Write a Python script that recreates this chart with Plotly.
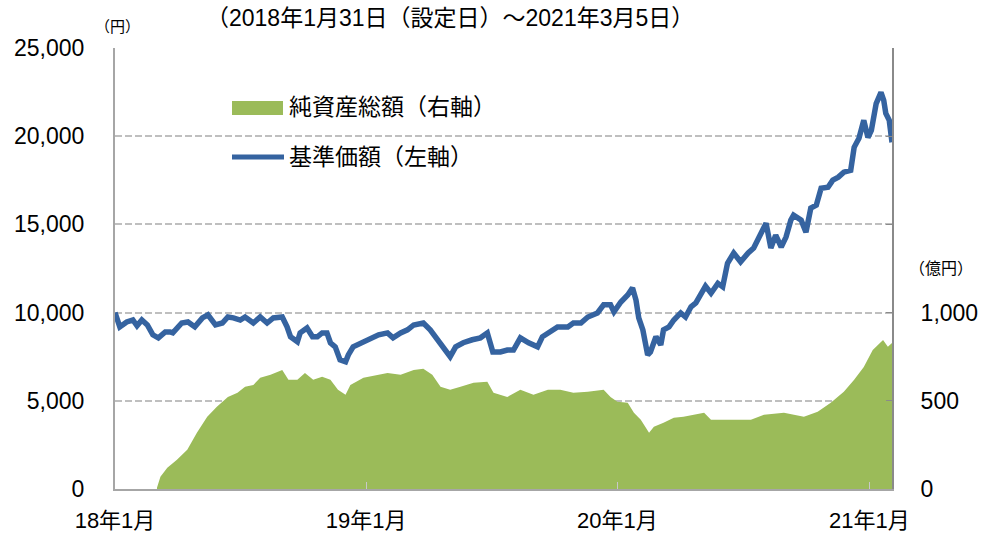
import plotly.graph_objects as go

# 基準価額（円）
nav_dates = ["2018-01-31","2018-02-07","2018-02-17","2018-02-26","2018-03-04","2018-03-11","2018-03-19","2018-03-27",
"2018-04-04","2018-04-14","2018-04-21","2018-04-25","2018-05-08","2018-05-17","2018-05-27","2018-06-07","2018-06-15",
"2018-06-26","2018-07-06","2018-07-14","2018-07-22","2018-08-01","2018-08-08","2018-08-20","2018-08-30","2018-09-09",
"2018-09-18","2018-10-01","2018-10-08","2018-10-13","2018-10-23","2018-10-27","2018-11-06","2018-11-14","2018-11-21",
"2018-11-28","2018-12-05","2018-12-10","2018-12-17","2018-12-24","2019-01-01","2019-01-05","2019-01-12","2019-01-25",
"2019-02-06","2019-02-18","2019-03-03","2019-03-11","2019-03-22","2019-04-01","2019-04-10","2019-04-24","2019-05-04",
"2019-05-15","2019-05-23","2019-06-02","2019-06-10","2019-06-21","2019-07-04","2019-07-16","2019-07-26","2019-08-03",
"2019-08-14","2019-08-24","2019-09-02","2019-09-12","2019-09-24","2019-10-07","2019-10-14","2019-10-26","2019-11-05",
"2019-11-20","2019-11-28","2019-12-09","2019-12-19","2020-01-02","2020-01-11","2020-01-21","2020-01-26","2020-02-05",
"2020-02-15","2020-02-22","2020-02-27","2020-03-02","2020-03-08","2020-03-15","2020-03-19","2020-03-27","2020-04-03",
"2020-04-07","2020-04-15","2020-04-22","2020-05-02","2020-05-09","2020-05-17","2020-05-24","2020-05-31","2020-06-07",
"2020-06-15","2020-06-25","2020-07-02","2020-07-09","2020-07-18","2020-07-28","2020-08-08","2020-08-16","2020-08-24",
"2020-09-03","2020-09-10","2020-09-17","2020-09-25","2020-10-02","2020-10-09","2020-10-13","2020-10-24","2020-10-31",
"2020-11-07","2020-11-15","2020-11-22","2020-12-02","2020-12-09","2020-12-17","2020-12-25","2021-01-04","2021-01-09",
"2021-01-16","2021-01-23","2021-01-29","2021-02-03","2021-02-10","2021-02-17","2021-02-21","2021-02-24","2021-03-01",
"2021-03-05"]
nav_values = [10000,9190,9470,9580,9250,9580,9300,8740,
8570,8900,8900,8850,9410,9470,9190,9700,9870,
9300,9410,9750,9700,9580,9750,9410,9750,9410,
9700,9750,9190,8630,8350,8850,9130,8630,8630,
8850,8850,8290,8060,7320,7210,7600,8060,8290,
8570,8740,8850,8570,8850,9020,9300,9410,9020,
8460,8010,7500,8060,8290,8460,8570,8850,7770,
7770,7880,7880,8570,8290,8060,8630,8910,9190,
9190,9410,9410,9750,9980,10440,10440,10040,10600,
11000,11400,10710,9700,9020,7600,7770,8630,8170,
9020,9190,9580,9980,9750,10330,10550,11100,11500,
11100,11660,11460,12800,13380,12880,13380,13660,14280,
15060,13660,14390,13720,14280,15240,15520,15240,14560,
15920,16090,17050,17110,17510,17680,17960,18070,19370,
19880,20900,19930,20330,21850,22480,22030,21290,20900,
19650]

# 純資産総額（億円）
na_dates = ["2018-04-02","2018-04-07","2018-04-17","2018-05-01","2018-05-16","2018-05-30","2018-06-14","2018-06-28",
"2018-07-14","2018-07-28","2018-08-08","2018-08-20","2018-08-30","2018-09-14","2018-10-01","2018-10-10","2018-10-23",
"2018-11-03","2018-11-15","2018-11-28","2018-12-10","2018-12-21","2019-01-01","2019-01-08","2019-01-27","2019-02-16",
"2019-03-03","2019-03-22","2019-04-10","2019-04-24","2019-05-07","2019-05-19","2019-06-02","2019-06-17","2019-07-06",
"2019-07-26","2019-08-04","2019-08-24","2019-09-12","2019-10-01","2019-10-22","2019-11-09","2019-11-28","2019-12-19",
"2020-01-11","2020-01-21","2020-01-31","2020-02-15","2020-02-24","2020-03-05","2020-03-17","2020-03-24","2020-04-07",
"2020-04-22","2020-05-06","2020-05-21","2020-06-05","2020-06-15","2020-07-14","2020-08-12","2020-08-31","2020-09-29",
"2020-10-28","2020-11-17","2020-12-06","2020-12-25","2021-01-09","2021-01-23","2021-02-05","2021-02-20","2021-02-27",
"2021-03-05"]
na_values = [7,70,120,166,222,319,410,466,
522,545,580,590,630,647,675,619,619,
658,619,636,619,562,534,590,630,647,
658,647,675,681,647,580,562,580,602,
608,545,522,562,534,562,562,545,551,
562,522,494,489,432,392,319,353,375,
404,410,421,432,392,392,392,421,432,
410,438,489,551,619,692,788,845,806,
828]

x_tickvals = ["2018-01-31", "2019-01-31", "2020-01-31", "2021-01-31"]
x_ticktext = ["18年1月", "19年1月", "20年1月", "21年1月"]

title_text = "（2018年1月31日（設定日）～2021年3月5日）"
legend_na = "純資産総額（右軸）"
legend_nav = "基準価額（左軸）"

GREEN = "#9bbb59"
BLUE = "#3563a0"
FONT = "Liberation Sans, Arial, Noto Sans CJK JP, sans-serif"

W, H = 982, 536
L, R, T, B = 115, 90, 48, 47
pw, ph = W - L - R, H - T - B

def px(x):
    return (x - L) / pw

def py(y):
    return (H - B - y) / ph

fig = go.Figure()
fig.add_trace(go.Scatter(x=na_dates, y=na_values, yaxis="y2", mode="lines",
                         line=dict(width=0, color=GREEN), fill="tozeroy",
                         fillcolor=GREEN, showlegend=False, hoverinfo="skip"))
fig.add_trace(go.Scatter(x=nav_dates, y=nav_values, mode="lines",
                         line=dict(width=5.5, color=BLUE), showlegend=False))

fig.update_layout(
    width=W, height=H,
    margin=dict(l=L, r=R, t=T, b=B, autoexpand=False),
    paper_bgcolor="white", plot_bgcolor="white",
    font=dict(family=FONT, size=22, color="black"),
    xaxis=dict(type="date", range=["2018-01-31", "2021-03-05"],
               tickvals=x_tickvals, ticktext=x_ticktext, automargin=False,
               showline=True, linecolor="#a6a6a6", linewidth=2,
               ticks="inside", ticklen=7, tickcolor="#c8c8c8", tickwidth=1,
               showgrid=False, zeroline=False,
               tickfont=dict(size=22), ticklabelstandoff=11),
    yaxis=dict(range=[0, 25000], dtick=5000, tickformat=",", automargin=False,
               showline=True, linecolor="#a6a6a6", linewidth=2,
               showgrid=True, gridcolor="#bfbfbf", gridwidth=1.5, griddash="7px,3px",
               zeroline=False, ticks="", tickfont=dict(size=23), ticklabelstandoff=24),
    yaxis2=dict(range=[0, 2500], overlaying="y", side="right", automargin=False,
                tickvals=[0, 500, 1000, 1500, 2000, 2500],
                ticktext=["0", "500", "1,000", "", "", ""],
                showline=True, linecolor="#8a8a8a", linewidth=2,
                ticks="inside", ticklen=6, tickcolor="#8a8a8a",
                showgrid=False, zeroline=False,
                tickfont=dict(size=23), ticklabelstandoff=22),
)

ann = [
    dict(text=title_text, x=px(450), y=py(18), font=dict(size=23)),
    dict(text="（円）", x=px(117), y=py(27), font=dict(size=15)),
    dict(text="（億円）", x=px(941), y=py(268), font=dict(size=16)),
]
for a in ann:
    fig.add_annotation(xref="paper", yref="paper", showarrow=False,
                       xanchor="center", yanchor="middle", **a)

fig.add_annotation(xref="paper", yref="paper", showarrow=False, text=legend_na,
                   x=px(287), y=py(107), xanchor="left", yanchor="middle",
                   font=dict(size=23))
fig.add_annotation(xref="paper", yref="paper", showarrow=False, text=legend_nav,
                   x=px(287), y=py(157), xanchor="left", yanchor="middle",
                   font=dict(size=23))
fig.add_shape(type="rect", xref="paper", yref="paper",
              x0=px(232), x1=px(283), y0=py(101), y1=py(115),
              fillcolor=GREEN, line=dict(width=0))
fig.add_shape(type="line", xref="paper", yref="paper",
              x0=px(232), x1=px(284), y0=py(157), y1=py(157),
              line=dict(color=BLUE, width=5))

fig.write_html("out.html", config={"displayModeBar": False},
               post_script="document.body.style.margin='0px';document.body.style.overflow='hidden';")
